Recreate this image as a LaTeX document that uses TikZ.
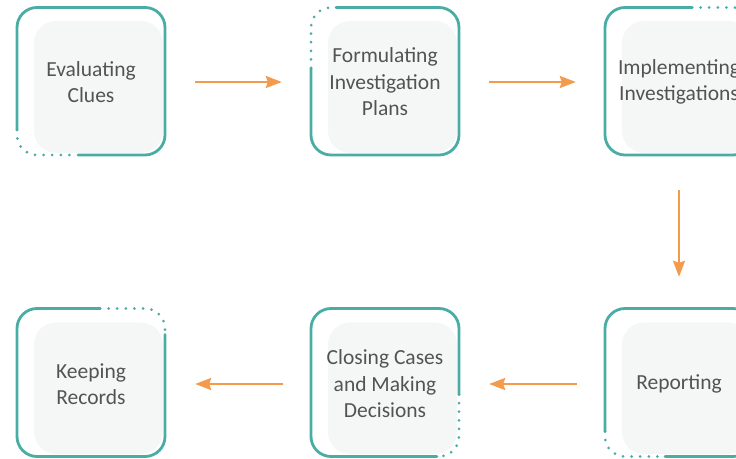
\documentclass[tikz,border=0pt]{standalone}
\usepackage{fontspec}
\setmainfont{Carlito}
\usetikzlibrary{arrows.meta}
\definecolor{teal1}{HTML}{4AADA5}
\definecolor{orng}{HTML}{F39A4C}
\definecolor{txt}{HTML}{535353}
\definecolor{pale}{HTML}{F5F7F6}
\begin{document}
\begin{tikzpicture}[x=1pt,y=1pt,
  solidline/.style={draw=teal1,line width=2.8pt,rounded corners=20pt,line cap=round},
  dotline/.style={draw=teal1,line width=3pt,rounded corners=20pt,line cap=round,dash pattern=on 0pt off 8.6pt},
  innerbox/.style={fill=pale,rounded corners=22pt},
  stepnode/.style={minimum width=148pt,minimum height=148pt,inner sep=0pt,align=center,text=txt,font=\fontsize{21.5pt}{26.5pt}\selectfont},
  flow/.style={draw=orng,line width=2pt,-{Stealth[length=16pt,width=12pt,inset=2pt]}}]
\useasboundingbox (0,0) rectangle (736,458);
% inner fills
\fill[innerbox] (34,305) rectangle (163,437);
\fill[innerbox] (328,305) rectangle (457,437);
\fill[innerbox] (622,305) rectangle (751,437);
\fill[innerbox] (34,4) rectangle (163,135.5);
\fill[innerbox] (328,4) rectangle (457,135.5);
\fill[innerbox] (622,4) rectangle (751,135.5);
% box 1 (dotted bottom-left)
\draw[solidline] (17,328) -- (17,450.5) -- (165,450.5) -- (165,303) -- (78,303);
\draw[dotline] (17,328) |- (78,303);
% box 2 (dotted top-left)
\draw[solidline] (336,450.5) -- (459,450.5) -- (459,303) -- (311,303) -- (311,390);
\draw[dotline] (311,390) |- (336,450.5);
% box 3 (dotted top-right)
\draw[solidline] (753,425) -- (753,303) -- (605,303) -- (605,450.5) -- (692,450.5);
\draw[dotline] (692,450.5) -| (753,425);
% box 4 (dotted top-right)
\draw[solidline] (165,123.5) -- (165,1.5) -- (17,1.5) -- (17,149.5) -- (100,149.5);
\draw[dotline] (100,149.5) -| (165,123.5);
% box 5 (dotted bottom-right)
\draw[solidline] (437,1.5) -- (311,1.5) -- (311,149.5) -- (459,149.5) -- (459,63.5);
\draw[dotline] (459,63.5) |- (437,1.5);
% box 6 (dotted bottom-left)
\draw[solidline] (665,1.5) -- (753,1.5) -- (753,149.5) -- (605,149.5) -- (605,26.5);
\draw[dotline] (605,26.5) |- (665,1.5);
% nodes
\node[stepnode] (n1) at (91,376) {Evaluating\\Clues};
\node[stepnode] (n2) at (385,376) {Formulating\\Investigation\\Plans};
\node[stepnode] (n3) at (679,376) {Implementing\\Investigations};
\node[stepnode] (n6) at (679,74) {Reporting};
\node[stepnode] (n5) at (385,74) {Closing Cases\\and Making\\Decisions};
\node[stepnode] (n4) at (91,74) {Keeping\\Records};
% connectors
\draw[flow,shorten <=30pt,shorten >=29pt] (n1) -- (n2);
\draw[flow,shorten <=30pt,shorten >=29pt] (n2) -- (n3);
\draw[flow,shorten <=34pt,shorten >=33pt] (n3) -- (n6);
\draw[flow,shorten <=28pt,shorten >=30pt] (n6) -- (n5);
\draw[flow,shorten <=28pt,shorten >=30pt] (n5) -- (n4);
\end{tikzpicture}
\end{document}
